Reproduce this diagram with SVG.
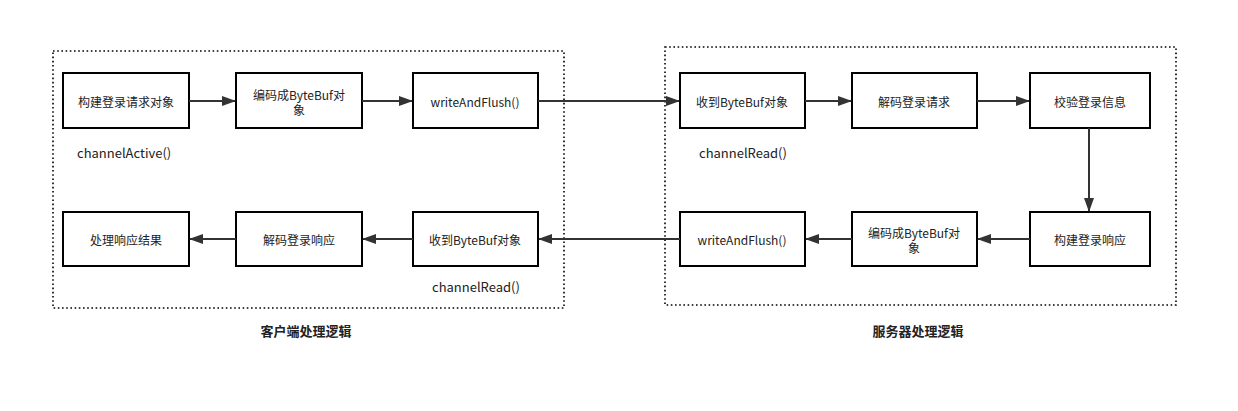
<svg xmlns="http://www.w3.org/2000/svg" width="1238" height="411" viewBox="0 0 1238 411">
<style>
.node rect{fill:#fff;stroke:#000;stroke-width:2}
.t{font-family:"Noto Sans CJK SC","Microsoft YaHei",sans-serif;font-size:12px;fill:#222;text-anchor:middle;dominant-baseline:central}
.lbl{font-family:"Noto Sans CJK SC",sans-serif;font-size:13px;fill:#222;dominant-baseline:central}
.title{font-family:"Noto Sans CJK SC",sans-serif;font-size:13px;font-weight:bold;fill:#222;text-anchor:middle;dominant-baseline:central}
.group{fill:none;stroke:#000;stroke-width:1.6;stroke-dasharray:1.6 2.6}
.edge{fill:none;stroke:#333;stroke-width:2;marker-end:url(#ah)}
</style>
<defs>
<marker id="ah" viewBox="0 0 14 10" refX="13" refY="5" markerWidth="14" markerHeight="10" markerUnits="userSpaceOnUse" orient="auto">
<path d="M0,0 L14,5 L0,10 Z" fill="#333"/>
</marker>
</defs>
<rect width="1238" height="411" fill="#fff"/>
<g id="client-group">
<rect class="group" x="53" y="51" width="511" height="257"/>
<text class="title" x="306" y="330">客户端处理逻辑</text>
</g>
<g id="server-group">
<rect class="group" x="665" y="47" width="511" height="258"/>
<text class="title" x="918" y="330">服务器处理逻辑</text>
</g>
<g id="c1" class="node"><rect x="63" y="73" width="126" height="55"/><text class="t" x="126" y="101">构建登录请求对象</text></g>
<g id="c2" class="node"><rect x="236" y="73" width="126" height="55"/><text class="t" x="299" y="94">编码成ByteBuf对</text><text class="t" x="299" y="109">象</text></g>
<g id="c3" class="node"><rect x="413" y="73" width="125" height="55"/><text class="t" x="475" y="101">writeAndFlush()</text></g>
<g id="c4" class="node"><rect x="63" y="212" width="126" height="54"/><text class="t" x="126" y="239">处理响应结果</text></g>
<g id="c5" class="node"><rect x="236" y="212" width="126" height="54"/><text class="t" x="299" y="239">解码登录响应</text></g>
<g id="c6" class="node"><rect x="413" y="212" width="125" height="54"/><text class="t" x="475" y="239">收到ByteBuf对象</text></g>
<g id="s1" class="node"><rect x="680" y="73" width="125" height="55"/><text class="t" x="742" y="101">收到ByteBuf对象</text></g>
<g id="s2" class="node"><rect x="852" y="73" width="125" height="55"/><text class="t" x="914" y="101">解码登录请求</text></g>
<g id="s3" class="node"><rect x="1030" y="73" width="120" height="55"/><text class="t" x="1090" y="101">校验登录信息</text></g>
<g id="s4" class="node"><rect x="680" y="212" width="125" height="54"/><text class="t" x="742" y="239">writeAndFlush()</text></g>
<g id="s5" class="node"><rect x="852" y="212" width="125" height="54"/><text class="t" x="914" y="232">编码成ByteBuf对</text><text class="t" x="914" y="247">象</text></g>
<g id="s6" class="node"><rect x="1030" y="212" width="120" height="54"/><text class="t" x="1090" y="239">构建登录响应</text></g>
<g id="labels">
<text class="lbl" x="77" y="152">channelActive()</text>
<text class="lbl" x="699" y="152">channelRead()</text>
<text class="lbl" x="432" y="286">channelRead()</text>
</g>
<g id="connectors">
<path class="edge" d="M189,101 H235"/>
<path class="edge" d="M362,101 H412"/>
<path class="edge" d="M538,101 H679"/>
<path class="edge" d="M805,101 H851"/>
<path class="edge" d="M977,101 H1029"/>
<path class="edge" d="M1089,128 V211"/>
<path class="edge" d="M1030,239 H978"/>
<path class="edge" d="M852,239 H806"/>
<path class="edge" d="M680,239 H539"/>
<path class="edge" d="M413,239 H363"/>
<path class="edge" d="M236,239 H190"/>
</g>
</svg>
